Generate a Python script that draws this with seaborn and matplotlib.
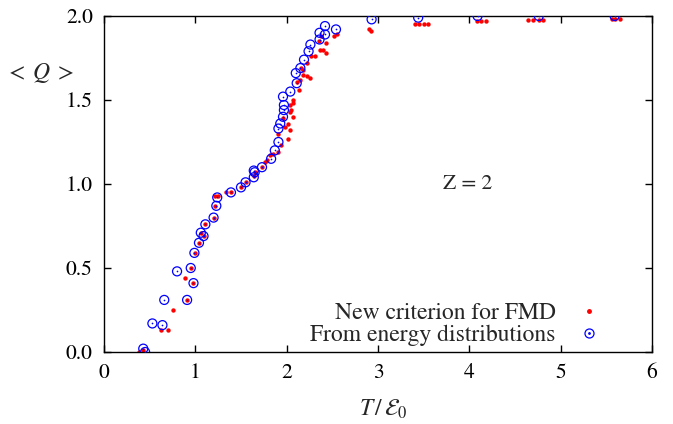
import matplotlib
matplotlib.use('Agg')

import matplotlib.pyplot as plt
import seaborn as sns
from matplotlib.lines import Line2D
from matplotlib.legend_handler import HandlerTuple

sns.set_style('ticks')
plt.rcParams['font.family'] = ['STIXGeneral', 'DejaVu Serif']
plt.rcParams['mathtext.fontset'] = 'stix'

# New criterion for FMD (red dots)
fmd_T = [0.38, 0.43, 0.62, 0.70, 0.76, 0.89, 0.91, 0.95, 0.98, 1.00,
         1.04, 1.06, 1.09, 1.11, 1.20, 1.22, 1.22, 1.25, 1.34, 1.39,
         1.50, 1.55, 1.64, 1.65, 1.73, 1.76, 1.79, 1.82, 1.85, 1.91,
         1.94, 1.91, 1.98, 1.96, 2.01, 2.04, 2.02, 2.07, 2.04, 2.05,
         2.04, 2.07, 2.07, 2.13, 2.11, 2.15, 2.22, 2.26, 2.18, 2.16,
         2.18, 2.22, 2.27, 2.31, 2.37, 2.40, 2.43, 2.43, 2.35, 2.38,
         2.52, 2.55, 2.90, 2.92, 3.40, 3.45, 3.50, 3.55, 4.08, 4.13,
         4.18, 4.64, 4.70, 4.76, 4.81, 5.56, 5.60, 5.65]
fmd_Q = [0.00, 0.01, 0.13, 0.13, 0.25, 0.44, 0.31, 0.50, 0.41, 0.59,
         0.65, 0.71, 0.69, 0.76, 0.80, 0.87, 0.93, 0.93, 0.95, 0.95,
         0.98, 1.01, 1.05, 1.07, 1.10, 1.13, 1.14, 1.17, 1.18, 1.19,
         1.23, 1.30, 1.34, 1.39, 1.27, 1.32, 1.36, 1.40, 1.43, 1.44,
         1.47, 1.48, 1.50, 1.56, 1.61, 1.62, 1.64, 1.63, 1.65, 1.69,
         1.68, 1.72, 1.76, 1.76, 1.80, 1.80, 1.78, 1.84, 1.85, 1.88,
         1.88, 1.89, 1.92, 1.91, 1.955, 1.955, 1.955, 1.955, 1.97, 1.97,
         1.97, 1.975, 1.975, 1.975, 1.975, 1.98, 1.98, 1.98]

# From energy distributions (blue circles)
ene_T = [0.43, 0.45, 0.53, 0.64, 0.66, 0.80, 0.91, 0.95, 0.98, 0.99,
         1.04, 1.06, 1.09, 1.11, 1.20, 1.23, 1.24, 1.39, 1.50, 1.55,
         1.64, 1.65, 1.64, 1.73, 1.83, 1.87, 1.91, 1.91, 1.93, 1.96,
         1.97, 1.97, 1.96, 2.04, 2.11, 2.10, 2.15, 2.19, 2.24, 2.26,
         2.36, 2.42, 2.36, 2.42, 2.54, 2.93, 3.44, 4.09, 4.76, 5.59]
ene_Q = [0.02, 0.00, 0.17, 0.16, 0.31, 0.48, 0.31, 0.50, 0.41, 0.59,
         0.65, 0.71, 0.69, 0.76, 0.80, 0.87, 0.92, 0.95, 0.98, 1.01,
         1.04, 1.07, 1.08, 1.10, 1.15, 1.20, 1.25, 1.33, 1.36, 1.40,
         1.44, 1.47, 1.52, 1.55, 1.60, 1.66, 1.69, 1.74, 1.79, 1.83,
         1.86, 1.89, 1.90, 1.94, 1.92, 1.98, 1.99, 2.00, 2.00, 2.00]

labels = ['New criterion for FMD', 'From energy distributions']

fig = plt.figure(figsize=(6.73, 4.24), dpi=100)
ax = fig.add_axes([0.1545, 0.1698, 0.8143, 0.7925])

sns.scatterplot(x=fmd_T, y=fmd_Q, ax=ax, color='#ff0000', s=10,
                linewidth=0, marker='o', zorder=2)
sns.scatterplot(x=ene_T, y=ene_Q, ax=ax, marker='o', s=42,
                facecolor='none', edgecolor='#0000ff', linewidth=0.9, zorder=3)
ax.scatter(ene_T, ene_Q, s=1.5, color='#0000ff', linewidth=0, zorder=3)

ax.set_xlim(0, 6)
ax.set_ylim(0, 2)
ax.set_xticks(range(0, 7))
ax.set_yticks([0.0, 0.5, 1.0, 1.5, 2.0])
ax.set_yticklabels(['0.0', '0.5', '1.0', '1.5', '2.0'])
ax.tick_params(direction='in', length=5, width=1, top=True, right=True,
               labelsize=15.5, colors='black', pad=8)
for sp in ax.spines.values():
    sp.set_visible(True)
    sp.set_color('black')
    sp.set_linewidth(1)

ax.set_xlabel(r'$T\,/\,\mathcal{E}_0$', fontsize=17, va='center')
ax.xaxis.set_label_coords(0.51, -0.172)
ax.set_ylabel(r'$<\;Q\;>$', fontsize=17, rotation=0, va='center', ha='center')
ax.yaxis.set_label_coords(-0.117, 0.83)

ax.text(3.98, 1.0, 'Z = 2', fontsize=15.5, ha='center', va='center')

h_red = Line2D([], [], marker='o', color='#ff0000', markersize=2.5, linestyle='none')
h_ring = Line2D([], [], marker='o', markerfacecolor='none', markeredgecolor='#0000ff',
                markersize=6.5, markeredgewidth=0.9, linestyle='none')
h_dot = Line2D([], [], marker='o', color='#0000ff', markersize=1, linestyle='none')
ax.legend([h_red, (h_ring, h_dot)], labels, handler_map={tuple: HandlerTuple(ndivide=1)},
          loc='lower right', bbox_to_anchor=(0.934, -0.01), borderaxespad=0,
          markerfirst=False, frameon=False, fontsize=17, handletextpad=0.65,
          labelspacing=0.02, handlelength=1.5)

plt.savefig('out.png', dpi=100)
plt.close()
